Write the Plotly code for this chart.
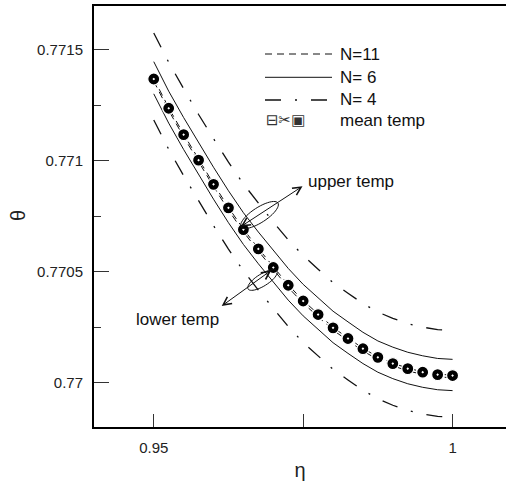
import numpy as np
import plotly.graph_objects as go

# ---------------- data ----------------
eta = [0.95, 0.9525, 0.955, 0.9575, 0.96, 0.9625, 0.965, 0.9675, 0.97, 0.9725,
       0.975, 0.9775, 0.98, 0.9825, 0.985, 0.9875, 0.99, 0.9925, 0.995, 0.9975, 1.0]

mean_temp = [0.771369, 0.771237, 0.771118, 0.771003, 0.770894, 0.770788, 0.770690,
             0.770603, 0.770519, 0.770439, 0.770368, 0.770307, 0.770247, 0.770199,
             0.770153, 0.770114, 0.770086, 0.770063, 0.770047, 0.770036, 0.770032]

n11_upper = [0.771371, 0.771239, 0.771120, 0.771005, 0.770896, 0.770790, 0.770692,
             0.770605, 0.770521, 0.770441, 0.770370, 0.770309, 0.770249, 0.770201,
             0.770155, 0.770116, 0.770088, 0.770065, 0.770049, 0.770038, 0.770034]
n11_lower = [0.771359, 0.771227, 0.771108, 0.770993, 0.770884, 0.770778, 0.770680,
             0.770593, 0.770509, 0.770429, 0.770358, 0.770297, 0.770237, 0.770189,
             0.770143, 0.770104, 0.770076, 0.770053, 0.770037, 0.770026, 0.770022]

n6_upper = [0.771447, 0.771314, 0.771195, 0.771080, 0.770971, 0.770865, 0.770766,
            0.770679, 0.770595, 0.770515, 0.770443, 0.770382, 0.770322, 0.770274,
            0.770227, 0.770188, 0.770160, 0.770137, 0.770121, 0.770109, 0.770105]
n6_lower = [0.771302, 0.771170, 0.771051, 0.770936, 0.770827, 0.770721, 0.770623,
            0.770536, 0.770452, 0.770372, 0.770301, 0.770240, 0.770180, 0.770132,
            0.770086, 0.770047, 0.770018, 0.769995, 0.769979, 0.769968, 0.769964]

n4_upper = [0.771576, 0.771444, 0.771325, 0.771209, 0.771100, 0.770994, 0.770896,
            0.770808, 0.770724, 0.770644, 0.770573, 0.770511, 0.770451, 0.770403,
            0.770357, 0.770318, 0.770290, 0.770266, 0.770250, 0.770239, 0.770235]
n4_lower = [0.771184, 0.771052, 0.770933, 0.770818, 0.770708, 0.770602, 0.770504,
            0.770417, 0.770333, 0.770253, 0.770181, 0.770120, 0.770060, 0.770012,
            0.769966, 0.769927, 0.769898, 0.769875, 0.769859, 0.769848, 0.769844]

x_tickvals = [0.95, 0.975, 1.0]
x_ticktext = ["0.95", "", "1"]
y_tickvals = [0.77, 0.7705, 0.771, 0.7715]
y_ticktext = ["0.77", "0.7705", "0.771", "0.7715"]
legend_labels = ["N=11", "N= 6", "N= 4", "mean temp"]

# ---------------- layout geometry ----------------
W, H = 506, 489
ML, MR, MT, MB = 94, 0, 6, 62
PW, PH = W - ML - MR, H - MT - MB
XR = [0.94, 1.00894]
YR = [0.7698, 0.771698]

FONT = "Arial, Liberation Sans, sans-serif"
INK = "#111111"


def px(xp):  # pixel -> paper x
    return (xp - ML) / PW


def py(yp):  # pixel -> paper y
    return (H - MB - yp) / PH


def dx(xp):  # pixel -> data x
    return XR[0] + (xp - ML) / PW * (XR[1] - XR[0])


def dy(yp):  # pixel -> data y
    return YR[0] + (H - MB - yp) / PH * (YR[1] - YR[0])


fig = go.Figure()

line_style = {
    "n11": dict(color=INK, width=1, dash="7px,5px"),
    "n6": dict(color=INK, width=1),
    "n4": dict(color=INK, width=1.3, dash="16px,14px,2px,14px"),
}

for ys, key in [(n11_upper, "n11"), (n11_lower, "n11"), (n6_upper, "n6"),
                (n6_lower, "n6"), (n4_upper, "n4"), (n4_lower, "n4")]:
    fig.add_trace(go.Scatter(x=eta, y=ys, mode="lines", line=line_style[key],
                             showlegend=False, hoverinfo="skip"))

fig.add_trace(go.Scatter(
    x=eta, y=mean_temp, mode="markers", showlegend=False,
    marker=dict(symbol="circle-dot", size=12, color="#000000",
                line=dict(color="#ffffff", width=1.2))))

# ---------------- manual legend ----------------
shapes = []
rows = [54, 77.3, 100]
for yy, key in zip(rows, ["n11", "n6", "n4"]):
    st = line_style[key]
    shapes.append(dict(type="line", xref="paper", yref="paper",
                       x0=px(265), x1=px(332), y0=py(yy), y1=py(yy),
                       line=dict(color=st["color"], width=st["width"],
                                 dash=st.get("dash", "solid"))))

annotations = []
for yy, lab in zip(rows + [120], legend_labels):
    annotations.append(dict(text=lab, xref="paper", yref="paper", x=px(338), y=py(yy),
                            xanchor="left", yanchor="middle", showarrow=False,
                            font=dict(family=FONT, size=17, color=INK)))
annotations.append(dict(text="⊟✂▣", xref="paper", yref="paper", x=px(264), y=py(120),
                        xanchor="left", yanchor="middle", showarrow=False,
                        font=dict(family="DejaVu Sans", size=15, color="#333333")))

# y-axis title placed explicitly
annotations.append(dict(text="θ", xref="paper", yref="paper", x=px(18), y=py(216),
                        xanchor="center", yanchor="middle", showarrow=False, textangle=-90,
                        font=dict(family=FONT, size=20, color="#222222")))

# ---------------- callouts ----------------
annotations.append(dict(text="upper temp", x=dx(306), y=dy(181), xanchor="left",
                        yanchor="middle", showarrow=False,
                        font=dict(family=FONT, size=17, color=INK)))
annotations.append(dict(text="lower temp", x=dx(134), y=dy(319), xanchor="left",
                        yanchor="middle", showarrow=False,
                        font=dict(family=FONT, size=17, color=INK)))
annotations.append(dict(text="", x=dx(240.7), y=dy(226.7), ax=dx(304), ay=dy(185.3),
                        axref="x", ayref="y", showarrow=True, arrowhead=5,
                        startarrowhead=5, arrowside="end+start", arrowsize=1.6,
                        arrowwidth=1, arrowcolor=INK))
annotations.append(dict(text="", x=dx(221.7), y=dy(306), ax=dx(272.7), ay=dy(269.3),
                        axref="x", ayref="y", showarrow=True, arrowhead=5,
                        startarrowhead=5, arrowside="end+start", arrowsize=1.6,
                        arrowwidth=1, arrowcolor=INK))


def ellipse_path(a, b, ang_deg, n=48):
    t = np.linspace(0, 2 * np.pi, n, endpoint=False)
    c, s = np.cos(np.radians(ang_deg)), np.sin(np.radians(ang_deg))
    xs = a * np.cos(t) * c - b * np.sin(t) * s
    ys = a * np.cos(t) * s + b * np.sin(t) * c
    pts = [f"{x:.2f},{y:.2f}" for x, y in zip(xs, ys)]
    return "M" + " L".join(pts) + " Z"


shapes.append(dict(type="path", xref="x", yref="y", xsizemode="pixel", ysizemode="pixel",
                   xanchor=dx(259.5), yanchor=dy(215), path=ellipse_path(22, 7.5, 33),
                   line=dict(color=INK, width=1)))
shapes.append(dict(type="path", xref="x", yref="y", xsizemode="pixel", ysizemode="pixel",
                   xanchor=dx(262.5), yanchor=dy(280), path=ellipse_path(17, 6, 32),
                   line=dict(color=INK, width=1)))

fig.update_layout(
    width=W, height=H, margin=dict(l=ML, r=MR, t=MT, b=MB, autoexpand=False),
    paper_bgcolor="white", plot_bgcolor="white", showlegend=False,
    font=dict(family=FONT, size=15, color="#222222"),
    shapes=shapes, annotations=annotations,
    xaxis=dict(range=XR, tickvals=x_tickvals, ticktext=x_ticktext, ticks="inside",
               ticklen=13, tickwidth=1.2, tickcolor="#333333", showgrid=False,
               zeroline=False, showline=True, linewidth=2, linecolor="#000000",
               mirror=True, tickfont=dict(size=15, color="#222222"),
               ticklabelstandoff=6, automargin=False,
               title=dict(text="η", font=dict(size=20, color="#222222"), standoff=8)),
    yaxis=dict(range=YR, tickvals=y_tickvals, ticktext=y_ticktext, ticks="inside",
               ticklen=15, tickwidth=1.2, tickcolor="#333333", showgrid=False,
               zeroline=False, showline=True, linewidth=2, linecolor="#000000",
               mirror=True, tickfont=dict(size=15, color="#222222"),
               ticklabelstandoff=6, automargin=False,
               minor=dict(ticks="inside", ticklen=7, tickwidth=1.2, tickcolor="#333333",
                          tickvals=[0.76975, 0.77025, 0.77075, 0.77125, 0.77175])),
    xaxis2=dict(range=XR, overlaying="x", side="top", anchor="y", tickvals=[0.95, 0.975],
                ticks="inside", ticklen=13, tickwidth=1.2, tickcolor="#333333",
                showticklabels=False, showgrid=False, zeroline=False, showline=False,
                automargin=False),
    yaxis2=dict(range=YR, overlaying="y", side="right", anchor="x", tickvals=y_tickvals,
                ticks="inside", ticklen=9, tickwidth=1.2, tickcolor="#333333",
                showticklabels=False, showgrid=False, zeroline=False, showline=False,
                automargin=False),
)

fig.write_html(
    "out.html",
    config={"displayModeBar": False},
    post_script="document.body.style.margin='0';document.body.style.overflow='hidden';",
)
